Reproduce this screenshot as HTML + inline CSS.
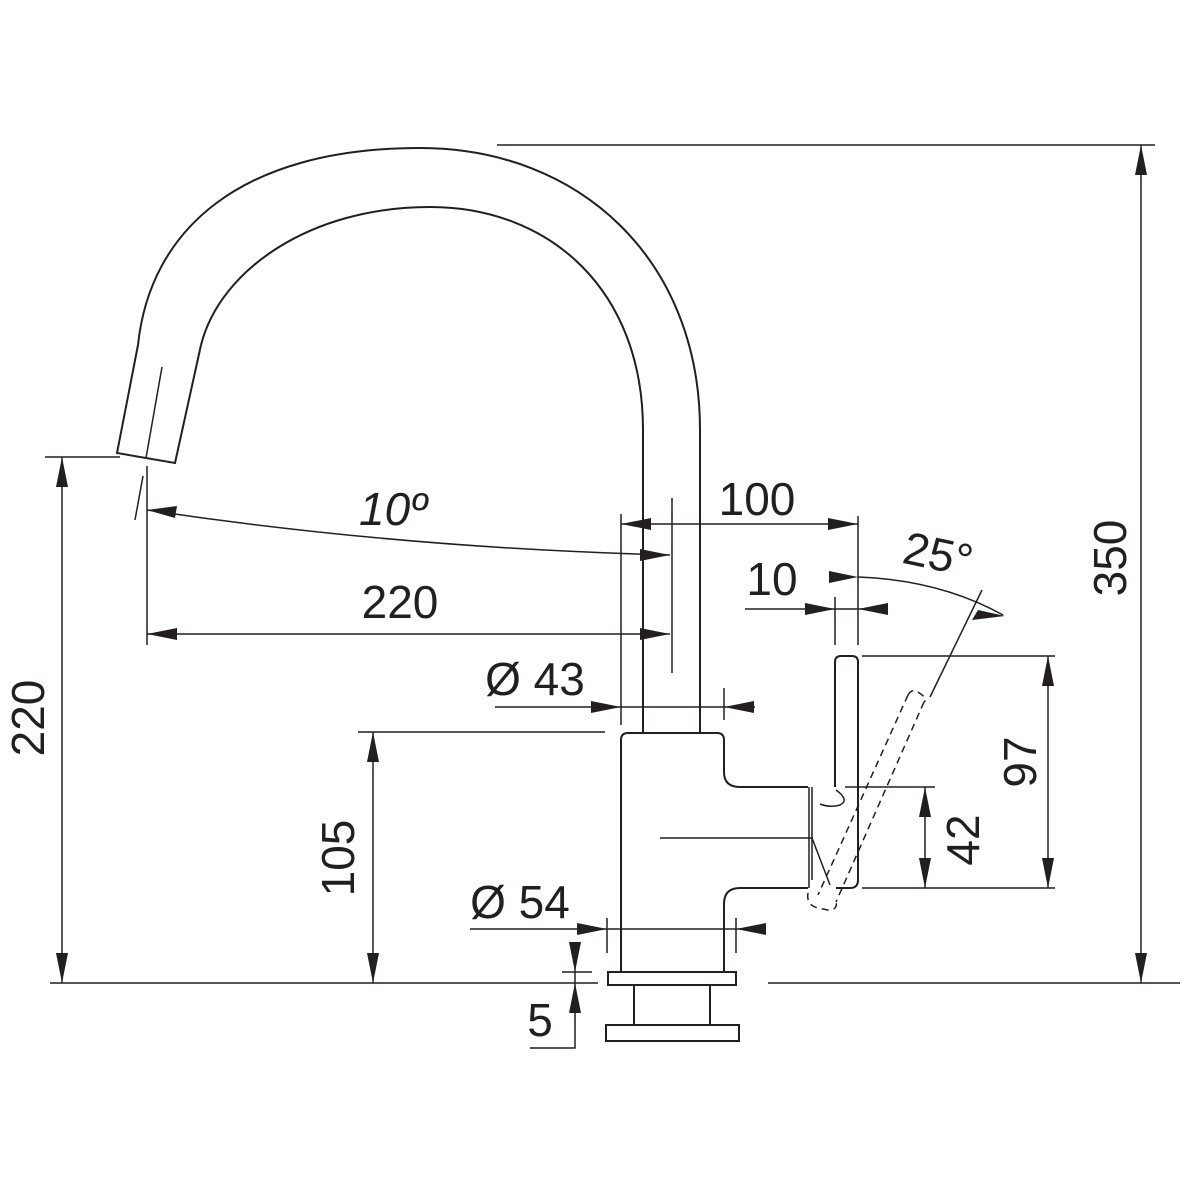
<!DOCTYPE html>
<html><head><style>html,body{margin:0;padding:0;background:#fff}svg{display:block}text{font-family:"Liberation Sans",Arial,sans-serif;fill:#231f20}</style></head>
<body>
<svg width="1200" height="1200" viewBox="0 0 1200 1200" xmlns="http://www.w3.org/2000/svg">
<g fill="none" stroke="#231f20" stroke-width="2">
<!-- spout -->
<path d="M700,733 L700,430 C700,260 580,148 420,148 C240,148 150,230 138,345 L117,453 L175,463 L201,345"/>
<path d="M643,733 L643,430 C643,290 550,207 430,207 C310,207 220,270 201,345"/>
<path d="M162,367 L146,458" stroke-width="1.5"/>
<path d="M143,476 L135,520" stroke-width="1.5"/>
<!-- body -->
<path d="M621,972 L621,740 Q621,733 628,733 L717,733 Q724,733 724,740 L724,772 Q724,787 740,787 L808,787 M808,888 L740,888 Q724,888 724,904 L724,972"/>
<rect x="608" y="972" width="128" height="13"/>
<path d="M634,985 L634,1025 M710,985 L710,1025"/>
<rect x="606" y="1025" width="133" height="16"/>
<!-- handle -->
<path d="M835,787 L835,662 Q835,656 841,656 L852,656 Q858,656 858,662 L858,880 Q858,888 850,888 L836,888"/>
<path d="M809,787 L809,888 M812,787 L812,880" stroke-width="1.5"/>
<path d="M812,838 L830,885 M836,790 Q850,800 840,805 Q830,808 820,804" stroke-width="1.5"/>
<path d="M660,838 L813,838" stroke-width="1.5"/>
<!-- dashed lever -->
<g stroke-dasharray="7,5" stroke-width="1.5">
<path d="M908,695 L818,895 M924,702 L836,902"/>
<path d="M908,695 Q912,688 918,692 L922,695 Q928,699 924,702"/>
<path d="M808,893 Q806,905 818,908 L828,910 Q838,910 836,902"/>
</g>
<path d="M982,590 L930,697" stroke-width="1.5"/>
<g stroke-width="1.5">
<path d="M497,145 L1155,145"/>
<path d="M1141,145 L1141,983"/>
<path d="M50,983 L598,983 M768,983 L1180,983"/>
<path d="M45,457 L120,457 M62,457 L62,983"/>
<path d="M358,732 L605,732 M373,732 L373,983"/>
<path d="M147,466 L147,645 M147,634 L670,634"/>
<path d="M147,510 Q400,548 670,555"/>
<path d="M621,514 L621,725 M672,498 L672,673"/>
<path d="M621,524 L858,524 M858,516 L858,645"/>
<path d="M745,609 L888,609 M835,597 L835,645"/>
<path d="M858,577 Q940,580 1003,615"/>
<path d="M495,707 L755,707 M724,688 L724,720"/>
<path d="M470,929 L765,929 M607,918 L607,953 M736,918 L736,953"/>
<path d="M562,972 L592,972 M575,942 L575,1048 L530,1048"/>
<path d="M862,656 L1055,656 M1048,656 L1048,888 M862,888 L1055,888"/>
<path d="M845,787 L935,787 M925,787 L925,888"/>
</g>
</g>
<g fill="#231f20">
<polygon points="1141,145 1135,175 1147,175"/><polygon points="1141,983 1135,953 1147,953"/>
<polygon points="62,457 56,487 68,487"/><polygon points="62,983 56,953 68,953"/>
<polygon points="373,732 367,762 379,762"/><polygon points="373,983 367,953 379,953"/>
<polygon points="147,634 177,628 177,640"/><polygon points="670,634 640,628 640,640"/>
<polygon points="147,510 177,506 175,518"/><polygon points="670,555 640,549 640,561"/>
<polygon points="621,524 651,518 651,530"/><polygon points="858,524 828,518 828,530"/>
<polygon points="835,609 805,603 805,615"/><polygon points="858,609 888,603 888,615"/>
<polygon points="858,577 829,571 829,583"/><polygon points="1005,616 978,610 972,620"/>
<polygon points="621,707 591,701 591,713"/><polygon points="724,707 754,701 754,713"/>
<polygon points="607,929 577,923 577,935"/><polygon points="736,929 766,923 766,935"/>
<polygon points="575,972 569,942 581,942"/><polygon points="575,983 569,1013 581,1013"/>
<polygon points="1048,656 1042,686 1054,686"/><polygon points="1048,888 1042,858 1054,858"/>
<polygon points="925,787 919,817 931,817"/><polygon points="925,888 919,858 931,858"/>
</g>
<g font-size="46">
<text x="400" y="618" text-anchor="middle">220</text>
<text x="393" y="525" text-anchor="middle" font-style="italic">10º</text>
<text x="757" y="515" text-anchor="middle">100</text>
<text x="772" y="595" text-anchor="middle">10</text>
<text x="938" y="570" text-anchor="middle" transform="rotate(12 938 555)">25°</text>
<text x="535" y="695" text-anchor="middle">Ø 43</text>
<text x="520" y="918" text-anchor="middle">Ø 54</text>
<text x="540" y="1036" text-anchor="middle">5</text>
<text transform="translate(1126,558) rotate(-90)" text-anchor="middle">350</text>
<text transform="translate(44,718) rotate(-90)" text-anchor="middle">220</text>
<text transform="translate(354,858) rotate(-90)" text-anchor="middle">105</text>
<text transform="translate(1036,762) rotate(-90)" text-anchor="middle">97</text>
<text transform="translate(979,840) rotate(-90)" text-anchor="middle">42</text>
</g>
</svg>
</body></html>
